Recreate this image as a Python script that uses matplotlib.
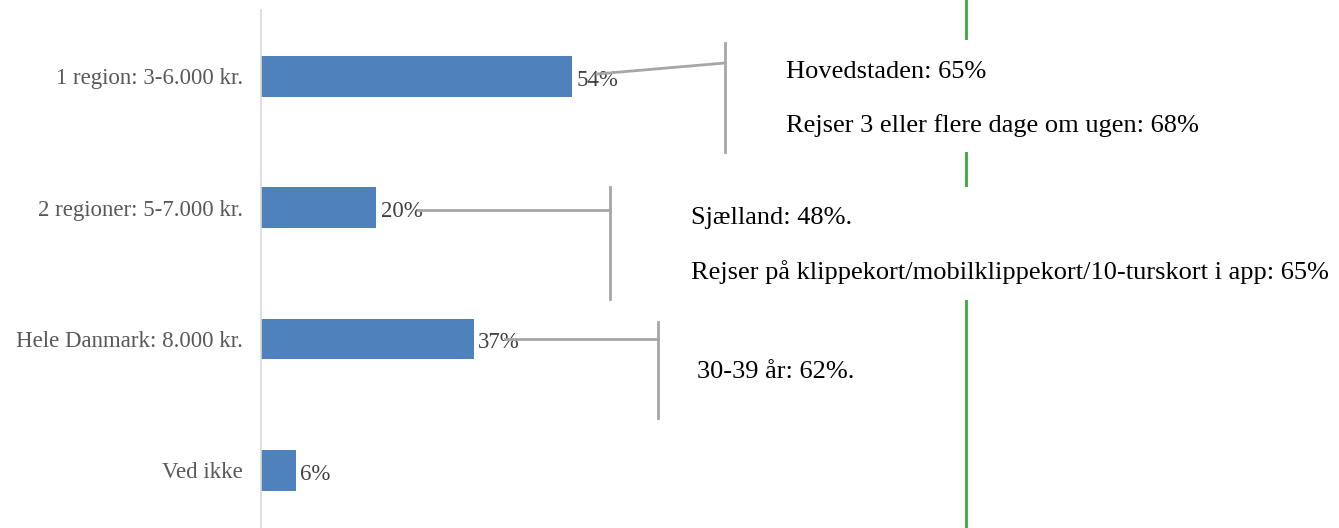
import matplotlib
matplotlib.use('Agg')
import matplotlib.pyplot as plt
from matplotlib.lines import Line2D
from matplotlib.patches import Rectangle

categories = ['1 region: 3-6.000 kr.', '2 regioner: 5-7.000 kr.',
              'Hele Danmark: 8.000 kr.', 'Ved ikke']
values = [54, 20, 37, 6]
notes1 = ['Hovedstaden: 65%', 'Rejser 3 eller flere dage om ugen: 68%']
notes2 = ['Sjælland: 48%.', 'Rejser på klippekort/mobilklippekort/10-turskort i app: 65%']
notes3 = ['30-39 år: 62%.']

W, H = 1339, 528
plt.rcParams['font.family'] = ['Liberation Serif', 'DejaVu Serif']

fig = plt.figure(figsize=(W / 100, H / 100), dpi=100)


def px(x, y):
    return x / W, 1 - y / H


ax = fig.add_axes([261 / W, 0, (W - 261) / W, 518 / H])
ax.barh(range(len(values)), values, height=0.31, color='#4F81BD')
ax.set_xlim(0, (W - 261) / 5.75)
ax.set_ylim(3.44, -0.504)
ax.set_yticks(range(len(categories)))
ax.set_yticklabels(categories, fontsize=16.5, color='#595959')
ax.tick_params(axis='y', length=0, pad=13)
ax.set_xticks([])
for s in ['top', 'right', 'bottom']:
    ax.spines[s].set_visible(False)
ax.spines['left'].set_color('#D9D9D9')
ax.spines['left'].set_linewidth(1.2)
for i, v in enumerate(values):
    ax.text(v + 0.8, i + 0.03, f'{v}%', va='center', ha='left',
            fontsize=16.5, color='#404040')

# green divider, partly hidden by the note boxes
fig.add_artist(Line2D([966 / W, 966 / W], [0, 1], color='#3AAA35', lw=2, zorder=1))
for (x0, y0, x1, y1) in [(770, 40, 1339, 152), (680, 187, 1339, 300)]:
    fig.add_artist(Rectangle(px(x0, y1), (x1 - x0) / W, (y1 - y0) / H,
                             facecolor='white', edgecolor='none', zorder=2))

# brackets
grey = '#A6A6A6'
segs = [
    [(725, 43), (725, 152)], [(597, 74), (725, 63)],
    [(610, 187), (610, 299)], [(418, 210), (610, 210)],
    [(658, 322), (658, 418)], [(505, 339), (658, 339)],
]
for (a, b) in segs:
    (xa, ya), (xb, yb) = px(*a), px(*b)
    fig.add_artist(Line2D([xa, xb], [ya, yb], color=grey, lw=2, zorder=3))

for t, y in zip(notes1, [72, 126]):
    fig.text(*px(786, y), t, fontsize=19, va='center', ha='left', color='black', zorder=4)
for t, y in zip(notes2, [218, 272]):
    fig.text(*px(691, y), t, fontsize=19, va='center', ha='left', color='black', zorder=4)
for t, y in zip(notes3, [372]):
    fig.text(*px(697, y), t, fontsize=19, va='center', ha='left', color='black', zorder=4)

fig.savefig('out.png', dpi=100)
